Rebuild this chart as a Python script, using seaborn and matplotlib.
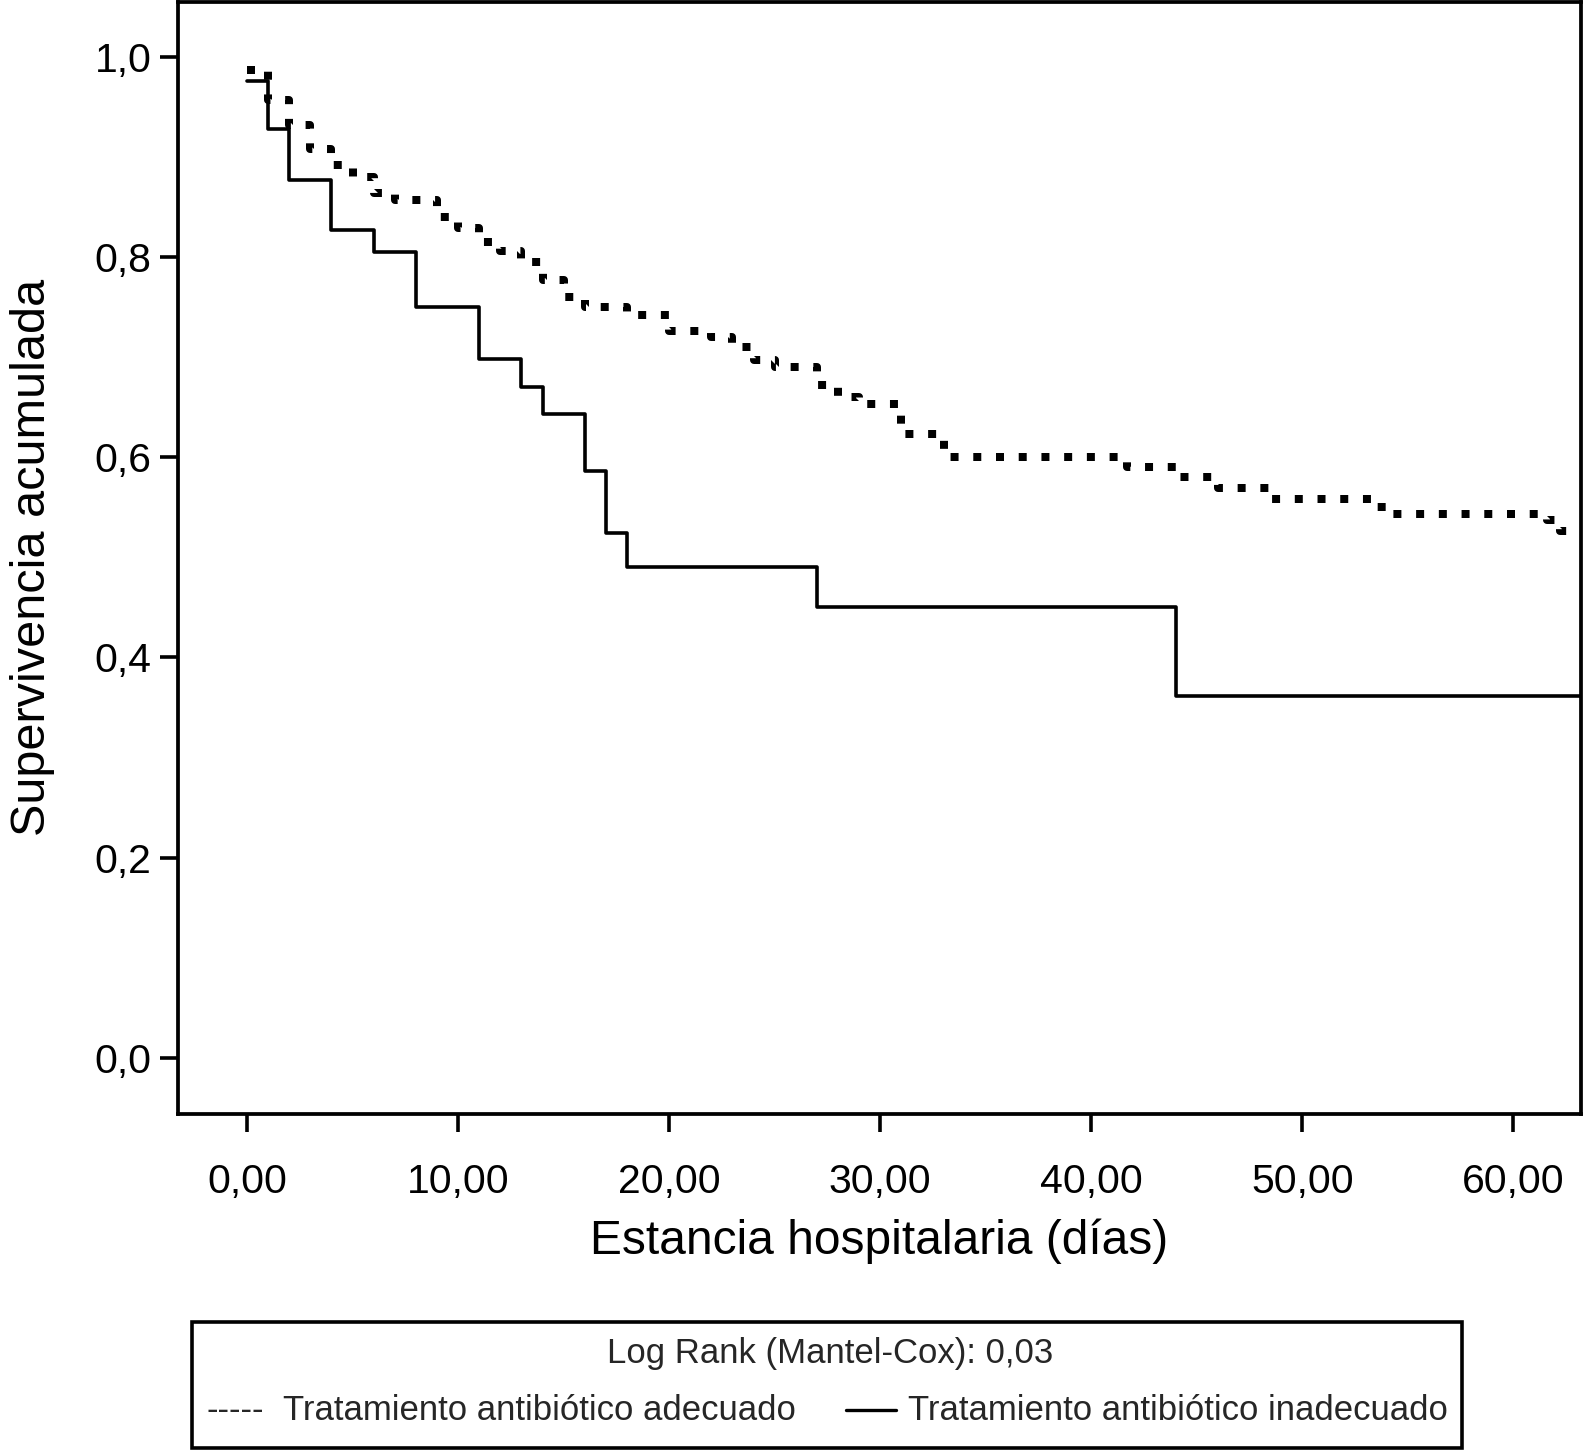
import numpy as np
import pandas as pd
import matplotlib
matplotlib.use("Agg")
import matplotlib.pyplot as plt
import seaborn as sns
from matplotlib.patches import Rectangle
from matplotlib.lines import Line2D

# ---------------- data ----------------
dias_adec = [0, 1, 2, 3, 4, 5, 6, 7, 9, 10, 11, 12, 13, 14, 15, 16, 18, 20, 22, 23,
             24, 25, 27, 28, 29, 31, 33, 41.7, 44, 46, 48.5, 53.5, 54.3, 61.6, 62.2, 64]
surv_adec = [0.987, 0.957, 0.932, 0.908, 0.892, 0.880, 0.864, 0.857, 0.840, 0.829,
             0.815, 0.806, 0.795, 0.777, 0.760, 0.750, 0.742, 0.726, 0.720, 0.710,
             0.697, 0.690, 0.672, 0.660, 0.653, 0.623, 0.600, 0.590, 0.580, 0.569,
             0.558, 0.550, 0.543, 0.537, 0.526, 0.526]

dias_inad = [0, 1, 2, 4, 6, 8, 11, 13, 14, 16, 17, 18, 27, 44, 64]
surv_inad = [0.976, 0.928, 0.877, 0.827, 0.805, 0.750, 0.698, 0.670, 0.643,
             0.586, 0.524, 0.490, 0.450, 0.361, 0.361]

x_ticks = [0, 10, 20, 30, 40, 50, 60]
x_tick_labels = ["0,00", "10,00", "20,00", "30,00", "40,00", "50,00", "60,00"]
y_ticks = [0.0, 0.2, 0.4, 0.6, 0.8, 1.0]
y_tick_labels = ["0,0", "0,2", "0,4", "0,6", "0,8", "1,0"]

label_adec = "Tratamiento antibiótico adecuado"
label_inad = "Tratamiento antibiótico inadecuado"
test_text = "Log Rank (Mantel-Cox): 0,03"

# ---------------- figure ----------------
sns.set_style("ticks")
plt.rcParams['font.family'] = ['Liberation Sans', 'DejaVu Sans']

W, H = 1583, 1451
fig = plt.figure(figsize=(W / 100, H / 100), dpi=100)
ax = fig.add_axes([178 / W, 1 - 1114 / H, (1581 - 178) / W, (1114 - 1.5) / H])

df_adec = pd.DataFrame({"dias": dias_adec, "surv": surv_adec})
df_inad = pd.DataFrame({"dias": dias_inad, "surv": surv_inad})

sns.lineplot(data=df_adec, x="dias", y="surv", drawstyle="steps-post",
             estimator=None, color="black", lw=5.76, ax=ax)
ln = ax.lines[-1]
ln.set_linestyle((0, (1, 1.84)))
ln.set_dash_capstyle("butt")

sns.lineplot(data=df_inad, x="dias", y="surv", drawstyle="steps-post",
             estimator=None, color="black", lw=2.6, ax=ax)

ax.set_xlim(-3.27, 63.2)
ax.set_ylim(-0.056, 1.055)
ax.set_xticks(x_ticks)
ax.set_xticklabels(x_tick_labels)
ax.set_yticks(y_ticks)
ax.set_yticklabels(y_tick_labels)
ax.tick_params(axis="both", direction="out", width=2.6, colors="black", labelsize=29.5)
ax.tick_params(axis="x", length=13, pad=22)
ax.tick_params(axis="y", length=13, pad=6)
for s in ax.spines.values():
    s.set_linewidth(2.7)
    s.set_color("black")

ax.set_xlabel("Estancia hospitalaria (días)", fontsize=34.5, color="black")
ax.set_ylabel("Supervivencia acumulada", fontsize=35, color="black")
ax.xaxis.set_label_coords(0.5, -0.094)
ax.yaxis.set_label_coords(-0.088, 0.5)

# ---------------- legend box ----------------
fig.add_artist(Rectangle((192 / W, 1 - 1448 / H), (1462 - 192) / W, (1448 - 1322) / H,
                         transform=fig.transFigure, fill=False, lw=2.6, ec="black"))
fig.text(830 / W, 1 - 1363 / H, test_text, ha="center", va="baseline", fontsize=25)
fig.text(207 / W, 1 - 1420 / H, "-----", ha="left", va="baseline", fontsize=25)
fig.text(283 / W, 1 - 1420 / H, label_adec, ha="left", va="baseline", fontsize=25)
fig.add_artist(Line2D([846 / W, 896 / W], [1 - 1410 / H, 1 - 1410 / H],
                      transform=fig.transFigure, lw=2.4, color="black"))
fig.text(908 / W, 1 - 1420 / H, label_inad, ha="left", va="baseline", fontsize=25)

fig.savefig("out.png", dpi=100, facecolor="white")
